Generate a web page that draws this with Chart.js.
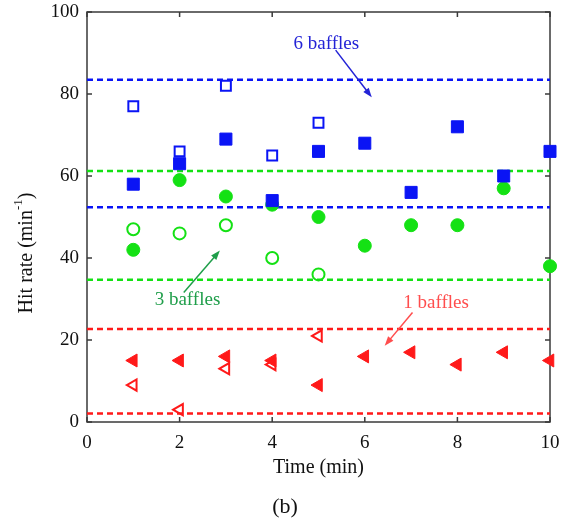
<!DOCTYPE html>
<html>
<head>
<meta charset="utf-8">
<script src="https://cdn.jsdelivr.net/npm/chart.js@4/dist/chart.umd.min.js"></script>
<style>
  html, body { margin: 0; padding: 0; background: #fff; }
  #wrap { width: 565px; height: 525px; }
</style>
</head>
<body>
<div id="wrap"><canvas id="hitChart"></canvas></div>
<script>
const times = [1, 2, 3, 4, 5, 6, 7, 8, 9, 10];
const timesOpen = [1, 2, 3, 4, 5];

const sixFilled = [58, 63, 69, 54, 66, 68, 56, 72, 60, 66];
const sixOpen = [77, 66, 82, 65, 73];
const threeFilled = [42, 59, 55, 53, 50, 43, 48, 48, 57, 38];
const threeOpen = [47, 46, 48, 40, 36];
const oneFilled = [15, 15, 16, 15, 9, 16, 17, 14, 17, 15];
const oneOpen = [9, 3, 13, 14, 21];

const sixBand = [52.4, 83.5];
const threeBand = [34.7, 61.2];
const oneBand = [2.1, 22.7];

const xTicks = [0, 2, 4, 6, 8, 10];
const yTicks = [0, 20, 40, 60, 80, 100];

// label text, text position, arrow tail, arrow head (data units)
const notes = [
  { text: '6 baffles', color: '#2323d6', at: [5.17, 92.3], from: [5.37, 90.7], to: [6.15, 79.2] },
  { text: '3 baffles', color: '#1f9e4a', at: [2.17, 29.7], from: [2.09, 31.6], to: [2.87, 41.8] },
  { text: '1 baffles', color: '#ff4d4d', at: [7.54, 29.1], from: [7.03, 26.7], to: [6.43, 18.6] }
];

const BLUE = 'rgb(10, 20, 245)';
const GREEN = 'rgb(20, 225, 20)';
const RED = 'rgb(255, 25, 25)';
const SERIF = '"Liberation Serif", "Times New Roman", serif';

const pts = (xs, ys) => ys.map((v, i) => ({ x: xs[i], y: v }));
const band = v => [{ x: 0, y: v }, { x: 10, y: v }];

function bandSet(v, color) {
  return {
    data: band(v), showLine: true, borderColor: color, borderWidth: 2.5,
    borderDash: [6, 4], pointRadius: 0, fill: false, clip: false, order: 5
  };
}

function markSet(data, style, color, filled, radius, rotation) {
  return {
    data: data, pointStyle: style, rotation: rotation || 0,
    pointRadius: radius, pointHoverRadius: radius,
    backgroundColor: filled ? color : 'rgba(255,255,255,0)',
    borderColor: color, pointBorderWidth: filled ? 1 : 2,
    showLine: false, clip: false, order: 1
  };
}

const framePlugin = {
  id: 'frame',
  beforeDatasetsDraw(chart) {
    const { ctx, chartArea: a, scales } = chart;
    ctx.save();
    ctx.strokeStyle = '#3a3a3a';
    ctx.lineWidth = 1.5;
    ctx.strokeRect(a.left, a.top, a.right - a.left, a.bottom - a.top);
    ctx.beginPath();
    xTicks.forEach(t => {
      const px = scales.x.getPixelForValue(t);
      ctx.moveTo(px, a.bottom); ctx.lineTo(px, a.bottom - 5);
      ctx.moveTo(px, a.top); ctx.lineTo(px, a.top + 5);
    });
    yTicks.forEach(t => {
      const py = scales.y.getPixelForValue(t);
      ctx.moveTo(a.left, py); ctx.lineTo(a.left + 5, py);
      ctx.moveTo(a.right, py); ctx.lineTo(a.right - 5, py);
    });
    ctx.stroke();
    ctx.restore();
  },
  afterDraw(chart) {
    const { ctx, chartArea: a, scales } = chart;
    const X = v => scales.x.getPixelForValue(v);
    const Y = v => scales.y.getPixelForValue(v);
    ctx.save();

    // annotations with arrows
    notes.forEach(n => {
      ctx.fillStyle = n.color;
      ctx.strokeStyle = n.color;
      ctx.font = '19px ' + SERIF;
      ctx.textAlign = 'center';
      ctx.textBaseline = 'middle';
      ctx.fillText(n.text, X(n.at[0]), Y(n.at[1]));
      const x1 = X(n.from[0]), y1 = Y(n.from[1]), x2 = X(n.to[0]), y2 = Y(n.to[1]);
      const ang = Math.atan2(y2 - y1, x2 - x1);
      ctx.lineWidth = 1.5;
      ctx.beginPath();
      ctx.moveTo(x1, y1);
      ctx.lineTo(x2 - 6 * Math.cos(ang), y2 - 6 * Math.sin(ang));
      ctx.stroke();
      ctx.beginPath();
      ctx.moveTo(x2, y2);
      ctx.lineTo(x2 - 10 * Math.cos(ang - 0.35), y2 - 10 * Math.sin(ang - 0.35));
      ctx.lineTo(x2 - 10 * Math.cos(ang + 0.35), y2 - 10 * Math.sin(ang + 0.35));
      ctx.closePath();
      ctx.fill();
    });

    // axis titles
    ctx.fillStyle = '#111';
    ctx.textBaseline = 'middle';
    ctx.textAlign = 'center';
    ctx.font = '20px ' + SERIF;
    ctx.fillText('Time (min)', (a.left + a.right) / 2, 468);
    ctx.font = '22px ' + SERIF;
    ctx.fillText('(b)', 285, 507);

    ctx.translate(27, 253);
    ctx.rotate(-Math.PI / 2);
    ctx.font = '20px ' + SERIF;
    const p1 = 'Hit rate (min', sup = '-1', p3 = ')';
    const w1 = ctx.measureText(p1).width;
    ctx.font = '13px ' + SERIF;
    const w2 = ctx.measureText(sup).width;
    ctx.font = '20px ' + SERIF;
    const w3 = ctx.measureText(p3).width;
    let sx = -(w1 + w2 + w3) / 2;
    ctx.textAlign = 'left';
    ctx.fillText(p1, sx, 0);
    ctx.font = '13px ' + SERIF;
    ctx.fillText(sup, sx + w1, -8);
    ctx.font = '20px ' + SERIF;
    ctx.fillText(p3, sx + w1 + w2, 0);
    ctx.restore();
  }
};

new Chart(document.getElementById('hitChart'), {
  type: 'scatter',
  data: {
    datasets: [
      bandSet(sixBand[0], BLUE), bandSet(sixBand[1], BLUE),
      bandSet(threeBand[0], GREEN), bandSet(threeBand[1], GREEN),
      bandSet(oneBand[0], RED), bandSet(oneBand[1], RED),
      markSet(pts(timesOpen, sixOpen), 'rect', BLUE, false, 7),
      markSet(pts(times, sixFilled), 'rect', BLUE, true, 8.5),
      markSet(pts(timesOpen, threeOpen), 'circle', GREEN, false, 6),
      markSet(pts(times, threeFilled), 'circle', GREEN, true, 6.5),
      markSet(pts(timesOpen, oneOpen), 'triangle', RED, false, 6.5, -90),
      markSet(pts(times, oneFilled), 'triangle', RED, true, 7.5, -90)
    ]
  },
  options: {
    responsive: true,
    maintainAspectRatio: false,
    animation: false,
    layout: { padding: { left: 0, right: 15, top: 12, bottom: 0 } },
    plugins: { legend: { display: false }, tooltip: { enabled: false } },
    scales: {
      x: {
        type: 'linear', min: 0, max: 10,
        afterBuildTicks: s => { s.ticks = xTicks.map(v => ({ value: v })); },
        afterFit: s => { s.height = 103; s.paddingLeft = 0; s.paddingRight = 0; },
        grid: { display: false, drawTicks: false },
        border: { display: false },
        ticks: { color: '#111', padding: 10, maxRotation: 0, font: { family: SERIF, size: 19 } }
      },
      y: {
        type: 'linear', min: 0, max: 100,
        afterBuildTicks: s => { s.ticks = yTicks.map(v => ({ value: v })); },
        afterFit: s => { s.width = 87; s.paddingTop = 0; s.paddingBottom = 0; },
        grid: { display: false, drawTicks: false },
        border: { display: false },
        ticks: { color: '#111', padding: 8, font: { family: SERIF, size: 19 } }
      }
    }
  },
  plugins: [framePlugin]
});
</script>
</body>
</html>
